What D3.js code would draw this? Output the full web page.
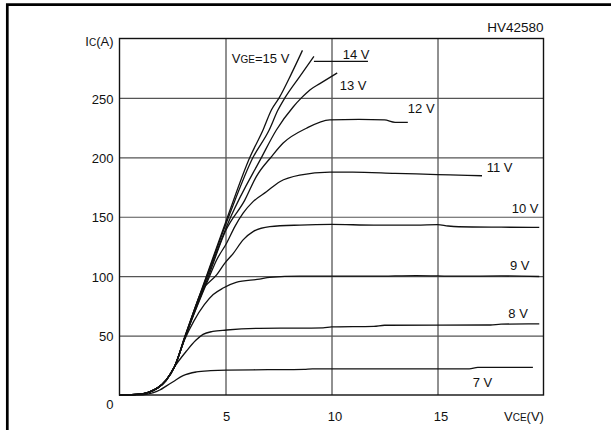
<!DOCTYPE html>
<html>
<head>
<meta charset="utf-8">
<script src="https://cdn.jsdelivr.net/npm/d3@7/dist/d3.min.js"></script>
<style>
  html, body { margin: 0; padding: 0; background: #fff; }
  svg { display: block; font-family: "Liberation Sans", Arial, Helvetica, sans-serif; }
</style>
</head>
<body>
<svg id="chart" width="611" height="430"></svg>
<script>
// Collector current vs collector-emitter voltage, one curve per gate voltage
const gateVolts = [15, 14, 13, 12, 11, 10, 9, 8, 7];
const xTicks = [5, 10, 15];
const yTicks = [50, 100, 150, 200, 250];

const v15 = [0, 1.0, 1.4, 1.8, 2.2, 2.6, 3.08, 4.1, 5.1, 6.15, 6.77, 7.17, 7.53, 8.1, 8.63];
const i15 = [0, 0.8, 2.5, 6, 12.5, 24, 49, 100, 150, 200, 223, 240, 250, 270, 290];

const v14 = [0, 1.0, 1.4, 1.8, 2.2, 2.6, 3.08, 4.12, 5.15, 6.3, 7.06, 7.48, 7.8, 8.5, 9.17];
const i14 = [0, 0.8, 2.5, 6, 12.5, 24, 49, 100, 150, 200, 223, 240, 250, 268, 285];

const v13 = [0, 1.0, 1.4, 1.8, 2.2, 2.6, 3.1, 4.15, 5.25, 6.7, 7.4, 8.2, 8.58, 8.98, 9.45, 10.27];
const i13 = [0, 0.8, 2.5, 6, 12.5, 24, 49, 100, 150, 200, 223, 242.6, 250, 256.7, 262, 271];

const v12 = [0, 1.0, 1.4, 1.8, 2.2, 2.6, 3.1, 4.2, 5.0, 5.91, 6.46, 7.17, 7.72, 8.82, 9.92, 11.3, 12.5, 13.0, 13.6];
const i12 = [0, 0.8, 2.5, 6, 12.5, 24, 49, 100, 138, 164, 184, 200.6, 212, 224.5, 231.5, 232, 231.5, 229.5, 229.5];

const v11 = [0, 1.0, 1.4, 1.8, 2.2, 2.6, 3.1, 4.25, 4.58, 5.05, 5.44, 5.83, 6.3, 6.93, 7.56, 8.5, 9.92, 11, 13, 15, 16, 17.1];
const i11 = [0, 0.8, 2.5, 6, 12.5, 24, 49, 100, 113.6, 127.7, 141.7, 153, 162.7, 171, 179.5, 185, 187.5, 187.5, 186.5, 185.5, 185, 184.5];

const v10 = [0, 1.0, 1.4, 1.8, 2.2, 2.6, 3.1, 3.9, 4.58, 4.97, 5.36, 5.83, 6.3, 7.09, 8.5, 10, 12, 14, 15, 15.5, 16, 18, 19.8];
const i10 = [0, 0.8, 2.5, 6, 12.5, 24, 49, 88, 101, 111, 119, 130.5, 137.5, 141.7, 143, 143.5, 143, 143, 143.4, 142.2, 141.6, 141.2, 141];

const v9 = [0, 1.0, 1.4, 1.8, 2.2, 2.6, 3.08, 3.5, 4.0, 4.42, 4.89, 5.5, 6.6, 7.09, 8.5, 10, 12, 14, 16, 18, 19.8];
const i9 = [0, 0.8, 2.5, 6, 12.5, 24, 47, 62, 76, 84.5, 90, 94.8, 97.5, 99, 100, 100, 100, 100.5, 100, 100.2, 99.7];

const v8 = [0, 1.0, 1.4, 1.8, 2.2, 2.53, 3.16, 3.6, 3.94, 4.4, 5.05, 6.6, 8.5, 9.6, 10, 12, 12.5, 17.5, 18, 19.8];
const i8 = [0, 0.8, 2.5, 6, 12, 22, 37, 46, 51, 53.5, 54.7, 56.1, 56.3, 56.5, 57.3, 57.8, 58.7, 58.9, 59.7, 59.8];

const v7 = [0, 1.1, 1.6, 1.9, 2.2, 2.53, 3.0, 3.63, 4.3, 5.05, 7, 8.7, 9.1, 16.5, 16.9, 19.5];
const i7 = [0, 0.2, 2, 4.2, 7.5, 11.2, 16.3, 19.4, 20.5, 21, 21.3, 21.6, 22, 22, 23.2, 23.3];

const vceSeries = [v15, v14, v13, v12, v11, v10, v9, v8, v7];
const icSeries = [i15, i14, i13, i12, i11, i10, i9, i8, i7];

const svg = d3.select("#chart");
const FONT = 13;

// outer frame (top and left edges)
svg.append("path")
  .attr("d", "M7.3,430V4.7H611")
  .attr("fill", "none").attr("stroke", "#000").attr("stroke-width", 2.7);

const x = d3.scaleLinear().domain([0, 20]).range([119.5, 543.5]);
const y = d3.scaleLinear().domain([0, 300]).range([395, 38.5]);
const W = x.range()[1] - x.range()[0];
const H = y.range()[0] - y.range()[1];

// grid via axes
const gx = svg.append("g")
  .attr("transform", `translate(0,${y(0)})`)
  .call(d3.axisBottom(x).tickValues(xTicks).tickSizeInner(-H).tickSizeOuter(0).tickPadding(17));
gx.select(".domain").remove();
gx.selectAll("line").attr("stroke", "#222").attr("stroke-width", 1);
gx.selectAll("text").attr("font-size", FONT).attr("fill", "#111")
  .attr("font-family", "Liberation Sans, Arial, sans-serif").attr("dx", d => d >= 10 ? 3 : 0.5);

const gy = svg.append("g")
  .attr("transform", `translate(${x(0)},0)`)
  .call(d3.axisLeft(y).tickValues(yTicks).tickSizeInner(-W).tickSizeOuter(0).tickPadding(6));
gy.select(".domain").remove();
gy.selectAll("line").attr("stroke", "#555").attr("stroke-width", 1.2);
gy.selectAll("text").attr("font-size", FONT).attr("fill", "#111")
  .attr("font-family", "Liberation Sans, Arial, sans-serif").attr("dy", "0.4em");

// plot frame
svg.append("rect")
  .attr("x", x(0)).attr("y", y(300)).attr("width", W).attr("height", H)
  .attr("fill", "none").attr("stroke", "#111").attr("stroke-width", 1.4);

// origin label
svg.append("text").attr("x", x(0) - 6).attr("y", 409)
  .attr("text-anchor", "end").attr("font-size", FONT).attr("fill", "#111").text("0");

// curves
const line = d3.line()
  .x(d => x(d[0])).y(d => y(d[1]))
  .curve(d3.curveMonotoneX);

svg.append("g").selectAll("path")
  .data(vceSeries.map((vs, k) => vs.map((v, j) => [v, icSeries[k][j]])))
  .join("path")
  .attr("d", line)
  .attr("fill", "none").attr("stroke", "#111").attr("stroke-width", 1.3)
  .attr("stroke-linejoin", "round");

// leader under the 14 V label
svg.append("line")
  .attr("x1", x(9.17)).attr("x2", x(11.72))
  .attr("y1", y(280.7)).attr("y2", y(280.7))
  .attr("stroke", "#111").attr("stroke-width", 1.2);

// curve labels, anchored in data units [V, A]
const labelAt = {15: [5.3, 279.8], 14: [10.53, 282.4], 13: [10.39, 257], 12: [13.6, 237],
                 11: [17.32, 187.4], 10: [18.5, 152.9], 9: [18.42, 105], 8: [18.34, 64.7], 7: [16.66, 6.7]};
const labels = svg.append("g").attr("font-size", FONT).attr("fill", "#111");
gateVolts.forEach(g => {
  const [lv, li] = labelAt[g];
  const t = labels.append("text").attr("x", x(lv)).attr("y", y(li));
  if (g === 15) {
    t.append("tspan").text("V");
    t.append("tspan").attr("font-size", 10).text("GE");
    t.append("tspan").text("=15 V");
  } else {
    t.text(g + " V");
  }
});

// axis titles
const yt = svg.append("text").attr("x", 113.5).attr("y", 46)
  .attr("text-anchor", "end").attr("font-size", FONT).attr("fill", "#111");
yt.append("tspan").text("I");
yt.append("tspan").attr("font-size", 10).text("C");
yt.append("tspan").text("(A)");

const xt = svg.append("text").attr("x", 504).attr("y", 421)
  .attr("font-size", FONT).attr("fill", "#111");
xt.append("tspan").text("V");
xt.append("tspan").attr("font-size", 10).text("CE");
xt.append("tspan").text("(V)");

// part number
svg.append("text").attr("x", 543.5).attr("y", 32)
  .attr("text-anchor", "end").attr("font-size", 13.5).attr("fill", "#111").text("HV42580");
</script>
</body>
</html>
